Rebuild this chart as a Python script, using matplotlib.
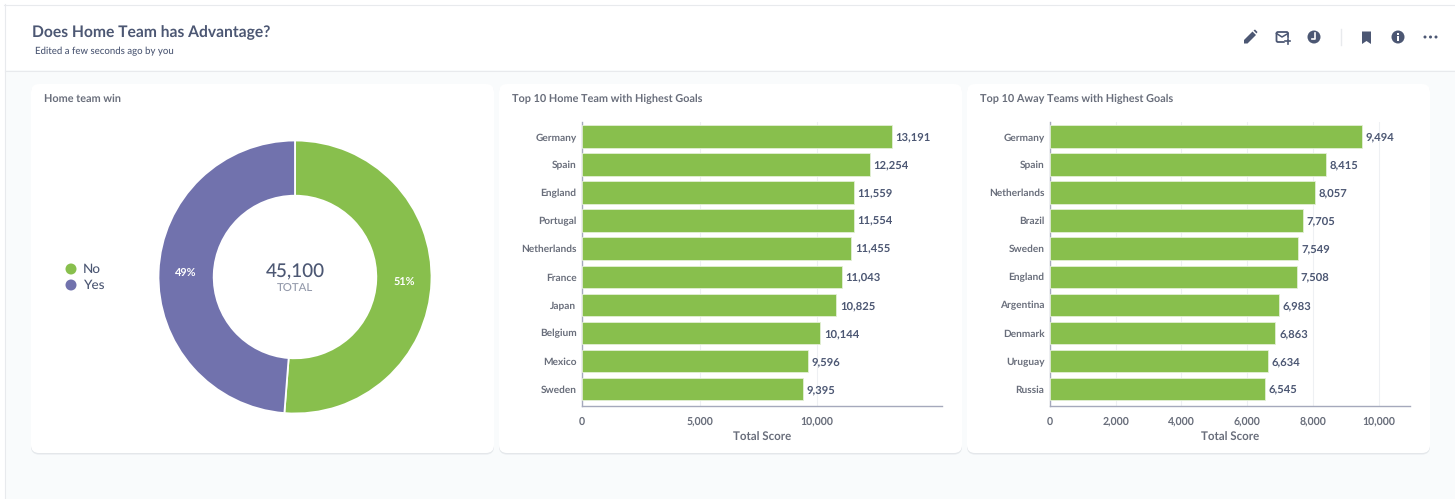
import matplotlib
matplotlib.use("Agg")
import matplotlib.pyplot as plt
from matplotlib.patches import FancyBboxPatch, Rectangle, Circle, Polygon
from matplotlib.ticker import FuncFormatter

plt.rcParams['font.family'] = ['Lato', 'Open Sans', 'DejaVu Sans']
plt.rcParams['text.hinting'] = 'no_hinting'
plt.rcParams['text.hinting_factor'] = 8

# ---- data ----
title = "Does Home Team has Advantage?"
subtitle = "Edited a few seconds ago by you"
donut_title = "Home team win"
donut_labels = ["No", "Yes"]
donut_values = [23110, 21990]
donut_total = "45,100"

home_title = "Top 10 Home Team with Highest Goals"
home_teams = ["Germany", "Spain", "England", "Portugal", "Netherlands",
              "France", "Japan", "Belgium", "Mexico", "Sweden"]
home_goals = [13191, 12254, 11559, 11554, 11455, 11043, 10825, 10144, 9596, 9395]
home_ticks = [0, 5000, 10000]

away_title = "Top 10 Away Teams with Highest Goals"
away_teams = ["Germany", "Spain", "Netherlands", "Brazil", "Sweden",
              "England", "Argentina", "Denmark", "Uruguay", "Russia"]
away_goals = [9494, 8415, 8057, 7705, 7549, 7508, 6983, 6863, 6634, 6545]
away_ticks = [0, 2000, 4000, 6000, 8000, 10000]

# ---- style ----
W, H = 1455, 499
GREEN, PURPLE = "#88BF4D", "#7172AD"
DARK, GREY = "#4C5773", "#696E7B"
BG, LINE = "#F9FBFC", "#E8EAED"

fig = plt.figure(figsize=(W / 100, H / 100), dpi=100, facecolor="white")

def px_axes(x0, y0, x1, y1, z=1):
    return fig.add_axes([x0 / W, 1 - y1 / H, (x1 - x0) / W, (y1 - y0) / H], zorder=z)

# ---- page chrome ----
bg = px_axes(0, 0, W, H, 0)
bg.set_xlim(0, W); bg.set_ylim(H, 0); bg.axis("off")
bg.add_patch(Rectangle((5, 70), W, H, fc=BG, ec="none"))
bg.plot([4, W], [4.5, 4.5], color=LINE, lw=0.8)
bg.plot([4.5, 4.5], [4, H], color=LINE, lw=0.8)
bg.plot([5, W], [70.5, 70.5], color=LINE, lw=0.8)

for x0, x1, t in [(31, 494, donut_title), (499, 962, home_title), (967, 1430, away_title)]:
    for off, col in [(1.6, "#E9ECEF"), (0.8, "#E3E6EA")]:
        bg.add_patch(FancyBboxPatch((x0, 84 + off), x1 - x0, 369, boxstyle="round,pad=0,rounding_size=8",
                                    fc=col, ec="none"))
    bg.add_patch(FancyBboxPatch((x0, 84), x1 - x0, 369, boxstyle="round,pad=0,rounding_size=8",
                                fc="white", ec="none"))
    bg.text(x0 + 13, 98.5, t, fontsize=7.85, color=GREY, va="center", ha="left", fontweight="bold")

bg.text(32, 33, title, fontsize=11.25, color=DARK, va="center", ha="left", fontweight="bold")
bg.text(35, 51.5, subtitle, fontsize=6.9, color=DARK, va="center", ha="left", fontweight="medium")

# ---- header icons ----
ic = DARK
bg.add_patch(Polygon([(1244, 43.5), (1244, 40), (1252.5, 31.5), (1256, 35), (1247.5, 43.5)], fc=ic, ec="none"))
bg.add_patch(Polygon([(1253.5, 30.5), (1255, 29.5), (1257.5, 32), (1256.5, 33.5)], fc=ic, ec="none"))
bg.add_patch(FancyBboxPatch((1276.5, 32), 11.5, 10, boxstyle="round,pad=0,rounding_size=1.5", fc="white", ec=ic, lw=1.3))
bg.plot([1276.5, 1282, 1288], [33.5, 37, 33.5], color=ic, lw=1.1)
bg.add_patch(Circle((1287.5, 41), 3.2, fc="white", ec="none"))
bg.plot([1285, 1290], [41, 41], color=ic, lw=1.2)
bg.plot([1287.5, 1287.5], [38.5, 43.5], color=ic, lw=1.2)
bg.add_patch(Circle((1314, 37), 6.5, fc=ic, ec="none"))
bg.plot([1315, 1315, 1311.5], [33, 38.5, 38.5], color="white", lw=1.2)
bg.plot([1340.5, 1340.5], [29, 45], color=LINE, lw=1)
bg.add_patch(Polygon([(1362, 31.5), (1371, 31.5), (1371, 44), (1366.5, 41), (1362, 44)], fc=ic, ec="none"))
bg.add_patch(Circle((1398, 37), 6.5, fc=ic, ec="none"))
bg.add_patch(Rectangle((1397, 36), 2, 5, fc="white", ec="none"))
bg.add_patch(Rectangle((1397, 33), 2, 2, fc="white", ec="none"))
for dx in (1425, 1430.5, 1436):
    bg.add_patch(Circle((dx, 37), 1.5, fc=ic, ec="none"))

# ---- donut ----
ax = px_axes(158.5, 140.5, 431.5, 413.5, 2)
wedges, _, pct = ax.pie(donut_values, startangle=90, counterclock=False, colors=[GREEN, PURPLE],
                        radius=1, wedgeprops=dict(width=55 / 136, edgecolor="white", linewidth=1.3),
                        autopct="%.0f%%", pctdistance=0.798,
                        textprops=dict(color="white", fontsize=7.8, fontweight="bold"))
ax.set_xlim(-1, 1); ax.set_ylim(-1, 1)
for w in wedges:
    w.set_clip_on(False)
ax.text(0, 0.04, donut_total, fontsize=13.6, color=DARK, ha="center", va="center", fontweight="medium")
ax.text(0, -0.09, "TOTAL", fontsize=8.2, color="#949AAB", ha="center", va="center", fontweight="medium")

for lab, col, y in zip(donut_labels, [GREEN, PURPLE], [269, 285]):
    bg.add_patch(Circle((71, y), 5.5, fc=col, ec="none"))
    bg.text(83, y, lab, fontsize=9.7, color=DARK, va="center", ha="left", fontweight="medium")

# ---- bar panels ----
def bar_panel(x0, x_right, per_px, teams, goals, ticks):
    a = px_axes(x0, 122, x_right, 406, 2)
    pos = list(range(len(teams)))
    a.barh(pos, goals, height=0.80, color=GREEN, edgecolor="#E3EFD5", linewidth=0.6, zorder=3)
    a.set_xlim(0, (x_right - x0) * per_px)
    a.set_ylim(9.6, -0.51)
    a.set_yticks(pos, teams)
    a.set_xticks(ticks)
    a.xaxis.set_major_formatter(FuncFormatter(lambda v, _: f"{int(v):,}"))
    a.tick_params(length=0)
    a.tick_params(axis="y", pad=4, labelsize=7.25, labelcolor=GREY)
    a.tick_params(axis="x", pad=7.5, labelsize=7.6, labelcolor=GREY)
    for t in a.get_xticklabels() + a.get_yticklabels():
        t.set_fontweight("bold")
    for t in a.get_yticklabels():
        t.set_va("center_baseline")
    a.grid(axis="x", color="#EEF0F3", lw=0.8, zorder=0)
    a.set_axisbelow(True)
    for s in ("top", "right"):
        a.spines[s].set_visible(False)
    for s in ("left", "bottom"):
        a.spines[s].set_color("#A5A9BC")
        a.spines[s].set_linewidth(1)
    for p, g in zip(pos, goals):
        a.annotate(f"{g:,}", (g, p), xytext=(2.6, 0), textcoords="offset points", va="center_baseline", ha="left",
                   fontsize=8.1, color=DARK, fontweight="bold", zorder=4)
    a.set_xlabel("Total Score", fontsize=8.3, color=GREY, fontweight="bold", labelpad=3.8)
    a.patch.set_alpha(0)
    return a

bar_panel(582, 942, 1000 / 23.5, home_teams, home_goals, home_ticks)
bar_panel(1050, 1410, 1000 / 32.85, away_teams, away_goals, away_ticks)

fig.savefig("out.png", dpi=100, facecolor=fig.get_facecolor())
